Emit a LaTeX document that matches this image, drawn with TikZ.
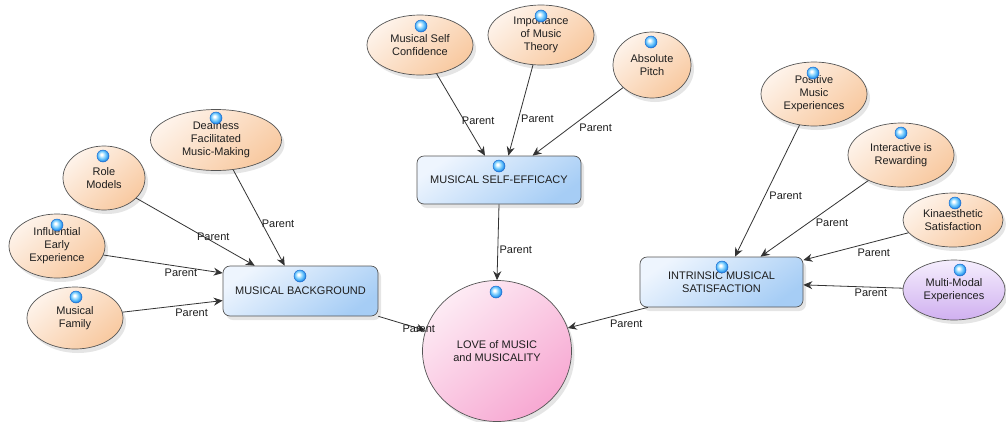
\documentclass[tikz,border=0pt]{standalone}
\usepackage{fontspec}
\setmainfont{Liberation Sans}
\usetikzlibrary{shapes.geometric,shadows,arrows.meta,calc}
\definecolor{orA}{HTML}{FEF3EA}
\definecolor{orB}{HTML}{F8C9A0}
\definecolor{blA}{HTML}{EEF5FE}
\definecolor{blB}{HTML}{A6CDF5}
\definecolor{pkA}{HTML}{FDEBF4}
\definecolor{pkB}{HTML}{F7A8D2}
\definecolor{lvA}{HTML}{F5EEFD}
\definecolor{lvB}{HTML}{D0B0F0}
\definecolor{edgec}{HTML}{333333}
\definecolor{bordc}{HTML}{555555}
\definecolor{txtc}{HTML}{1E1E1E}
\definecolor{dotL}{HTML}{9ADCFF}
\definecolor{dotM}{HTML}{3AA6F5}
\definecolor{dotD}{HTML}{1F6FD0}
\pgfdeclareradialshading{bluedot}{\pgfpoint{-7bp}{7bp}}{color(0bp)=(white); color(4bp)=(white); color(12bp)=(dotL); color(22bp)=(dotM); color(27bp)=(dotD); color(50bp)=(dotD)}
\begin{document}
\begin{tikzpicture}[x=1pt,y=-1pt,
  font=\fontsize{11}{13}\selectfont,
  every node/.style={text=txtc},
  shad/.style={drop shadow={opacity=0.2,shadow xshift=3pt,shadow yshift=-4pt}},
  ell/.style={ellipse,draw=bordc,line width=0.7pt,inner sep=0pt,align=center,
    top color=orA,bottom color=orB,shading angle=40,shad},
  purp/.style={ell,top color=lvA,bottom color=lvB},
  cbox/.style={rectangle,rounded corners=7pt,draw=bordc,line width=0.7pt,inner sep=0pt,align=center,
    top color=blA,bottom color=blB,shading angle=35,shad},
  bigc/.style={ellipse,draw=bordc,line width=0.7pt,inner sep=0pt,align=center,
    top color=pkA,bottom color=pkB,shading angle=40,shad},
  dot/.style={circle,minimum size=12pt,inner sep=0pt,shading=bluedot,draw=dotD,line width=0.5pt},
  edge/.style={draw=edgec,line width=0.8pt,-{Stealth[length=9pt,width=8pt,inset=3pt]}},
  lbl/.style={font=\fontsize{11}{13}\selectfont,inner sep=0pt}
]
\useasboundingbox (0,0) rectangle (1006,421);
\fill[white] (0,0) rectangle (1006,421);

% main nodes
\node[bigc,minimum width=149pt,minimum height=141pt] (love) at (497,351) {LOVE of MUSIC\\and MUSICALITY};
\node[cbox,minimum width=164pt,minimum height=48pt] (se) at (499,180) {MUSICAL SELF-EFFICACY};
\node[cbox,minimum width=155pt,minimum height=50pt] (mb) at (300.5,291) {MUSICAL BACKGROUND};
\node[cbox,minimum width=163pt,minimum height=50pt] (ims) at (721.5,282) {INTRINSIC MUSICAL\\SATISFACTION};

% factor nodes
\node[ell,minimum width=106pt,minimum height=60pt] (sc) at (420,45) {Musical Self\\Confidence};
\node[ell,minimum width=106pt,minimum height=60pt] (imp) at (541,35) {Importance\\of Music\\Theory};
\node[ell,minimum width=78pt,minimum height=66pt] (ap) at (652,65) {Absolute\\Pitch};
\node[ell,minimum width=131pt,minimum height=61pt] (df) at (216,140) {Deafness\\Facilitated\\Music-Making};
\node[ell,minimum width=82pt,minimum height=64pt] (rm) at (104,178) {Role\\Models};
\node[ell,minimum width=96pt,minimum height=64pt] (ie) at (57,246) {Influential\\Early\\Experience};
\node[ell,minimum width=96pt,minimum height=62pt] (mf) at (75,318) {Musical\\Family};
\node[ell,minimum width=106pt,minimum height=64pt] (pm) at (814,94) {Positive\\Music\\Experiences};
\node[ell,minimum width=106pt,minimum height=64pt] (ir) at (901,155) {Interactive is\\Rewarding};
\node[ell,minimum width=100pt,minimum height=54pt] (ks) at (953,220) {Kinaesthetic\\Satisfaction};
\node[purp,minimum width=102pt,minimum height=60pt] (mm) at (954,290) {Multi-Modal\\Experiences};

% connectors
\draw[edge] (sc.-60) -- node[lbl,pos=0.57,xshift=14pt]{Parent} (se.120);
\draw[edge] (imp.-105) -- node[lbl,pos=0.59,xshift=19pt]{Parent} (se.69);
\draw[edge] (ap.-142) -- node[lbl,pos=0.59,xshift=26pt]{Parent} (se.36);
\draw[edge] (se.south) -- node[lbl,pos=0.6,xshift=18pt]{Parent} (love.north);
\draw[edge] (df.-60) -- node[lbl,pos=0.56,xshift=16pt]{Parent} (mb.122);
\draw[edge] (rm.-32) -- node[lbl,pos=0.65,yshift=5pt]{Parent} (mb.151);
\draw[edge] (ie.-11) -- node[lbl,pos=0.65,yshift=-6pt]{Parent} (mb.167);
\draw[edge] (mf.7) -- node[lbl,pos=0.69,yshift=-9pt]{Parent} (mb.187);
\draw[edge] (mb.-18) -- node[lbl,pos=0.86]{Parent} (love.164);
\draw[edge] (ims.199) -- node[lbl,pos=0.27,yshift=-11pt]{Parent} (love.18);
\draw[edge] (pm.-115) -- node[lbl,pos=0.54,xshift=21pt]{Parent} (ims.62);
\draw[edge] (ir.-142) -- node[lbl,pos=0.55,xshift=23pt]{Parent} (ims.33);
\draw[edge] (ks.-164) -- node[lbl,pos=0.33,yshift=-11pt]{Parent} (ims.15);
\draw[edge] (mm.178) -- node[lbl,pos=0.32,yshift=-6pt]{Parent} (ims.-2);

% blue markers
\node[dot] (d-sc) at (421,26) {};
\node[dot] (d-imp) at (541,16) {};
\node[dot] (d-ap) at (651,42) {};
\node[dot] (d-se) at (499,166) {};
\node[dot] (d-df) at (216,118) {};
\node[dot] (d-rm) at (103,156) {};
\node[dot] (d-ie) at (57,225) {};
\node[dot] (d-mf) at (76,297) {};
\node[dot] (d-mb) at (300,276) {};
\node[dot] (d-love) at (496,292) {};
\node[dot] (d-ims) at (722,267) {};
\node[dot] (d-pm) at (813,73) {};
\node[dot] (d-ir) at (901,133) {};
\node[dot] (d-ks) at (955,203) {};
\node[dot] (d-mm) at (960,270) {};
\end{tikzpicture}
\end{document}
